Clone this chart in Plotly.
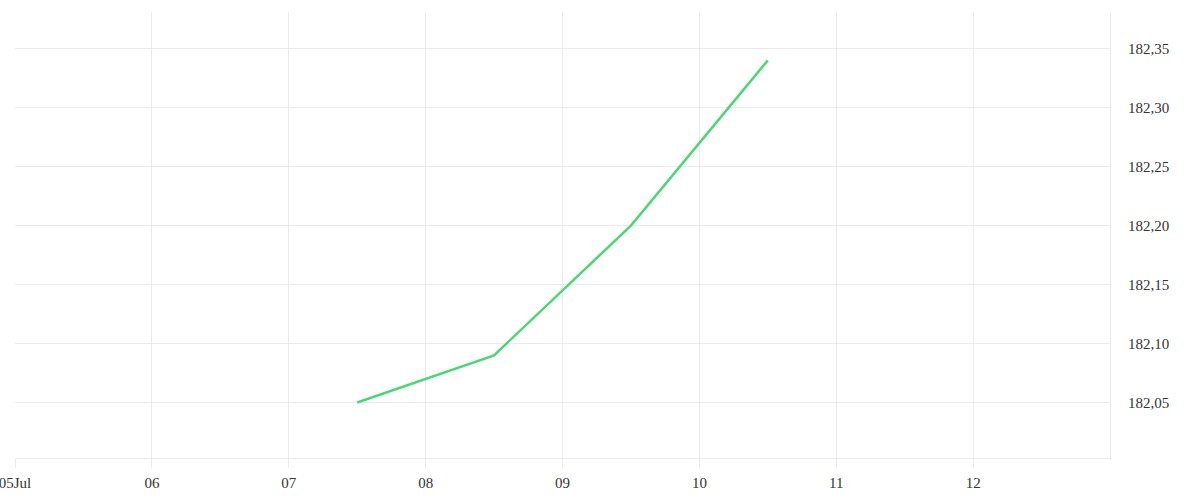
import plotly.graph_objects as go

dates = ["2024-07-07 12:00", "2024-07-08 12:00", "2024-07-09 12:00", "2024-07-10 12:00"]
values = [182.05, 182.09, 182.20, 182.34]
tick_dates = ["2024-07-05", "2024-07-06", "2024-07-07", "2024-07-08",
              "2024-07-09", "2024-07-10", "2024-07-11", "2024-07-12"]
tick_labels = ["05Jul", "06", "07", "08", "09", "10", "11", "12"]
y_ticks = [182.05, 182.10, 182.15, 182.20, 182.25, 182.30, 182.35]

grid = "#ebebeb"
font_family = "Liberation Serif, DejaVu Serif, serif"

fig = go.Figure()
fig.add_trace(go.Scatter(x=dates, y=values, mode="lines",
                         line=dict(color="#4cd674", width=2.5),
                         hoverinfo="skip", showlegend=False))

fig.update_layout(
    width=1200, height=500,
    margin=dict(l=15, r=90, t=12, b=42),
    paper_bgcolor="white", plot_bgcolor="white",
    separators=", ",
    font=dict(family=font_family, size=15, color="#333333"),
    xaxis=dict(
        type="date", automargin=False,
        range=["2024-07-05", "2024-07-13"],
        tickmode="array", tickvals=tick_dates, ticktext=tick_labels,
        ticklabeloverflow="allow", ticklabelstandoff=2,
        showgrid=True, gridcolor=grid, gridwidth=1,
        ticks="outside", ticklen=9, tickcolor=grid, tickwidth=1,
        showline=True, linecolor=grid, linewidth=1,
        zeroline=False,
    ),
    yaxis=dict(
        side="right", automargin=False,
        range=[182.003, 182.381],
        tickmode="array", tickvals=y_ticks, tickformat=".2f",
        showgrid=True, gridcolor=grid, gridwidth=1,
        ticks="outside", ticklen=14, tickcolor="rgba(0,0,0,0)",
        showline=True, linecolor=grid, linewidth=1,
        zeroline=False,
    ),
)

fig.write_html("out.html",
               config={"displayModeBar": False},
               post_script="document.body.style.margin='0';document.body.style.overflow='hidden';")
